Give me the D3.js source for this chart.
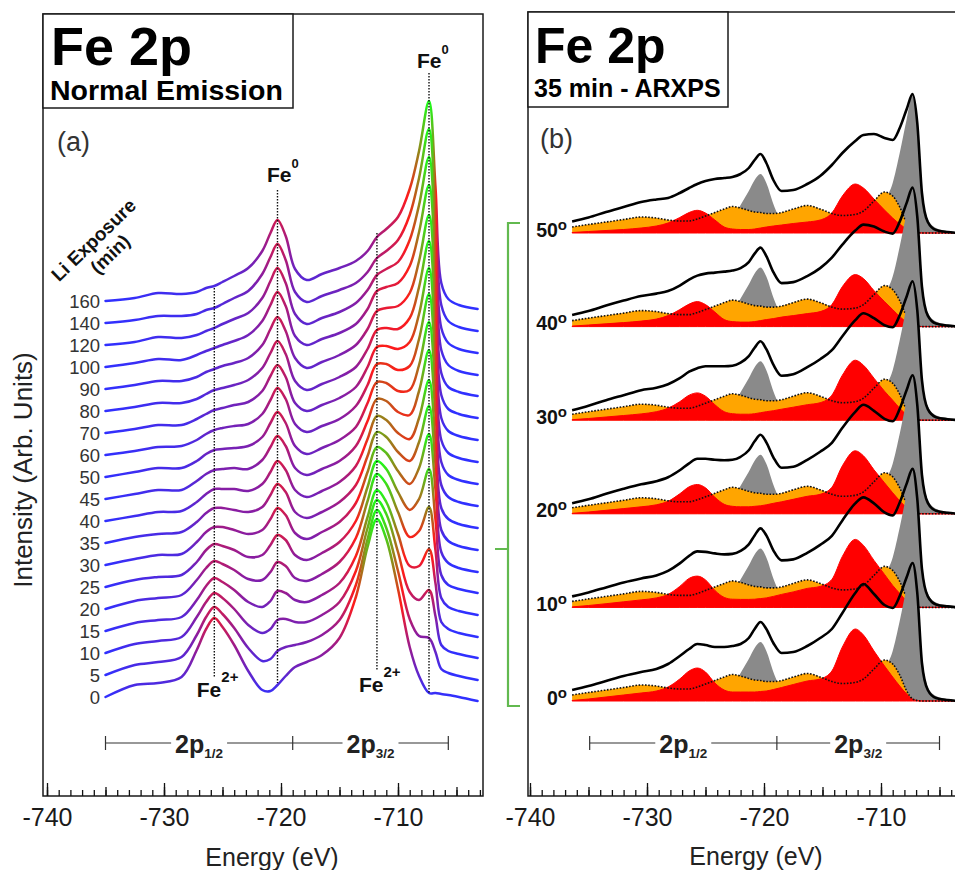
<!DOCTYPE html>
<html>
<head>
<meta charset="utf-8">
<script src="https://cdn.jsdelivr.net/npm/d3@7"></script>
<style>
  body { margin: 0; background: #fff; }
  svg { display: block; }
  text { font-family: "Liberation Sans", Arial, Helvetica, sans-serif; }
</style>
</head>
<body>
<svg id="chart" width="955" height="870"></svg>
<script>
// ---- Panel (a): Fe 2p, normal emission, vs Li exposure ----
var exposures = [0, 5, 10, 15, 20, 25, 30, 35, 40, 45, 50, 60, 70, 80, 90, 100, 120, 140, 160];
var energyA = [-735, -732.5, -730.5, -728.5, -727.2, -726.4, -725.7, -725, -724, -722.8, -721.6, -720.9,
  -720.3, -719.6, -718.8, -717.8, -716.5, -715, -713.6, -712.6, -711.8, -711, -710, -709, -708.2,
  -707.35, -706.8, -706.3, -705.7, -704.8, -703.2];

var min0   = [0, 12, 14, 20, 47, 68, 79, 70, 52, 26, 7, 6, 12, 21, 30, 35, 42, 59, 100, 150, 178, 158, 108, 50, 21, 4, 4, 3, 2, 0, -4];
var min5   = [0, 10, 13, 18, 40, 58, 68, 61, 47, 27, 14, 16, 24, 28, 30, 33, 40, 55, 90, 136, 165, 147, 104, 56, 39, 37, 23, 6, 2, -1, -5];
var min10  = [0, 9, 12, 16, 36, 51, 60, 55, 44, 28, 20, 24, 33, 34, 31, 31, 38, 51, 82, 125, 153, 139, 101, 61, 53, 63, 37, 8, 2, -1, -5];
var min15  = [0, 8, 11, 14, 31, 45, 53, 49, 41, 29, 24, 30, 40, 38, 31, 29, 36, 48, 75, 114, 141, 129, 97, 65, 65, 82, 48, 9, 2, -2, -6];
var min20  = [0, 8, 11, 14, 29, 41, 48, 45, 39, 30, 29, 37, 47, 43, 31, 28, 35, 47, 71, 108, 135, 125, 97, 72, 78, 102, 59, 11, 2, -2, -6];
var min25  = [0, 7, 10, 12, 25, 37, 43, 41, 37, 30, 32, 42, 52, 47, 32, 27, 34, 45, 66, 100, 126, 118, 95, 77, 88, 118, 68, 12, 2, -2, -6];
var min30  = [0, 6, 10, 11, 23, 33, 38, 38, 35, 31, 35, 46, 57, 50, 32, 26, 33, 43, 62, 93, 118, 112, 94, 81, 97, 131, 76, 13, 2, -3, -7];
var min35  = [0, 6, 9, 11, 21, 30, 35, 35, 33, 31, 36, 48, 59, 51, 31, 25, 31, 41, 58, 87, 111, 106, 91, 82, 101, 137, 79, 13, 2, -3, -7];
var min40  = [0, 5, 9, 10, 19, 27, 32, 32, 32, 30, 37, 49, 60, 51, 31, 24, 30, 39, 55, 82, 105, 101, 88, 82, 103, 141, 81, 13, 2, -3, -7];
var min45  = [0, 5, 9, 9, 18, 25, 29, 30, 31, 30, 39, 52, 63, 53, 31, 24, 30, 38, 53, 78, 100, 98, 87, 84, 108, 149, 86, 14, 2, -3, -7];
var min50  = [0, 5, 9, 9, 16, 23, 27, 28, 29, 31, 40, 54, 65, 54, 31, 23, 29, 37, 50, 74, 95, 94, 86, 87, 112, 155, 89, 15, 2, -3, -7];
var min60  = [0, 4, 8, 9, 15, 21, 25, 27, 29, 31, 41, 55, 67, 56, 31, 23, 29, 36, 49, 70, 91, 91, 85, 89, 116, 161, 93, 15, 2, -3, -7];
var min70  = [0, 4, 8, 8, 14, 19, 23, 25, 28, 31, 42, 57, 68, 56, 30, 22, 28, 35, 46, 66, 86, 87, 84, 91, 119, 165, 95, 15, 2, -3, -7];
var min80  = [0, 4, 8, 8, 12, 17, 21, 23, 26, 31, 43, 58, 70, 57, 30, 21, 27, 34, 44, 62, 81, 83, 82, 93, 124, 170, 98, 16, 2, -3, -7];
var min90  = [0, 4, 8, 8, 12, 17, 20, 23, 26, 31, 44, 60, 72, 58, 31, 21, 27, 34, 44, 60, 78, 81, 83, 96, 128, 174, 100, 16, 2, -3, -7];
var min100 = [0, 4, 8, 7, 12, 16, 19, 22, 26, 32, 46, 62, 75, 61, 31, 22, 28, 34, 43, 58, 76, 80, 84, 101, 135, 182, 105, 17, 2, -4, -8];
var min120 = [0, 3, 8, 7, 10, 14, 17, 21, 26, 32, 47, 64, 77, 62, 31, 21, 27, 33, 42, 55, 70, 76, 83, 105, 140, 188, 108, 17, 2, -4, -8];
var min140 = [0, 3, 7, 7, 9, 13, 15, 19, 25, 32, 49, 66, 79, 63, 31, 21, 27, 33, 40, 51, 65, 72, 83, 108, 145, 194, 112, 18, 2, -4, -8];
var min160 = [0, 3, 8, 7, 9, 13, 15, 19, 25, 33, 50, 68, 81, 65, 32, 21, 27, 33, 40, 50, 64, 72, 84, 112, 150, 200, 115, 18, 2, -4, -8];
var spectraA = [min0, min5, min10, min15, min20, min25, min30, min35, min40, min45, min50,
  min60, min70, min80, min90, min100, min120, min140, min160];

// ---- Panel (b): 35 min, ARXPS with fitted components ----
var angles = [0, 10, 20, 30, 40, 50];
var energyB = [-736.4, -735, -733.5, -732, -730.5, -729.2, -728.2, -727.2, -726.4, -725.7, -725, -724.2,
  -723.4, -722.7, -722, -721.3, -720.8, -720.3, -719.8, -719.2, -718.5, -717.5, -716.3, -715.2, -714.2,
  -713.3, -712.2, -711.5, -710.6, -709.7, -709, -708.4, -707.8, -707.3, -706.9, -706.5, -706, -705.3,
  -704.3, -703.3];

var env0  = [11, 15, 20, 25, 29, 32, 37, 45, 52, 57, 56, 54, 54, 55, 57, 63, 72, 79, 72, 58, 48, 49, 55, 63, 72, 88, 108, 117, 107, 96, 93, 105, 124, 138, 108, 38, 11, 3, 1, 0];
var env10 = [11, 15, 20, 25, 29, 32, 36.5, 44, 51.5, 56, 55.5, 54, 53, 53.5, 56.5, 63, 72, 79, 72, 57, 47, 48, 54.5, 62.5, 71.5, 87, 104, 110, 104, 95, 92, 105, 124, 138.5, 108.5, 38.5, 11, 3, 1, 0];
var env20 = [10.5, 14.5, 20, 25, 29.5, 32.5, 36.5, 43.5, 50.5, 55, 55, 54, 53.5, 54, 57, 63.5, 72.5, 79, 71.5, 56.5, 46, 47, 54, 62, 71, 86, 102, 109, 103, 95, 92.5, 105, 124, 138.5, 109, 39, 11, 3, 1, 0];
var env30 = [10, 14.5, 20, 25, 30, 32.5, 36, 42, 48.5, 52, 54, 54, 54, 54.5, 57.5, 64, 72.5, 79, 71, 55.5, 44.5, 46, 53, 61, 70, 84, 100, 107, 102, 95, 93, 105, 124, 139, 110, 40, 11, 3, 1, 0];
var env40 = [11.5, 15.5, 21, 26, 30.5, 33, 35.5, 41, 47, 51, 53, 54, 55, 56, 58.5, 64.5, 73, 79, 70.5, 54.5, 43.5, 44.5, 50.5, 58.5, 69, 82, 96, 102, 100, 95, 93, 105, 124, 139, 110, 40, 11, 3, 1, 0];
var env50 = [11.5, 15.5, 21, 26, 31, 33.5, 35, 40, 45, 49, 52, 54, 55, 56, 59, 65, 73, 79, 70, 53, 42, 43, 49, 57, 68, 80, 92, 98, 99, 95, 93, 105, 124, 139, 110, 40, 11, 3, 1, 0];

var red0  = [0.5, 2, 4, 6, 8, 10, 14, 22, 30, 33, 29, 18, 11, 9, 9, 9, 9, 9.5, 10, 11.5, 13.5, 16.5, 20, 22, 30, 54, 72, 66, 50, 35, 24, 15, 7, 2, 0.5, 0, 0, 0, 0, 0];
var red10 = [0.5, 1.9, 3.7, 5.6, 7.5, 9.5, 13, 21, 29, 31.3, 27.5, 17, 10, 8.2, 8, 8, 8.2, 8.8, 9.5, 11, 13, 15.5, 19, 21, 28, 51, 68, 62, 47, 33, 22, 14, 6.5, 2, 0.5, 0, 0, 0, 0, 0];
var red20 = [0.5, 1.8, 3.5, 5.2, 7, 9, 12.5, 20, 27, 29.3, 26, 16.5, 9.5, 7.5, 7, 7, 7.5, 8, 9, 10.5, 12, 14.5, 17.5, 19.5, 26.5, 48, 63, 58, 44, 31, 21, 13, 6, 2, 0.5, 0, 0, 0, 0, 0];
var red30 = [0.5, 1.7, 3.2, 4.7, 6.3, 8.5, 12, 18.5, 25, 27.3, 24, 15.5, 8.5, 6.5, 6, 6, 6.5, 7.5, 8.5, 9.5, 11, 13, 15.5, 17.5, 25, 45, 60, 55, 42, 29, 20, 12, 5.5, 1.5, 0.5, 0, 0, 0, 0, 0];
var red40 = [0.5, 1.6, 2.8, 4, 5.5, 7.5, 11, 17, 22.5, 25, 22, 14.5, 7, 5, 4.5, 4.5, 5, 6, 7, 8, 9.5, 11, 13, 15, 22, 40, 52, 48, 36, 25, 17, 10, 4.5, 1.5, 0.3, 0, 0, 0, 0, 0];
var red50 = [0.5, 1.5, 2.5, 3.5, 5, 7, 10, 15.5, 20.5, 22.7, 20, 13, 6, 4, 3.5, 3.5, 4, 5, 6, 7, 8, 9.5, 11, 13, 20, 37, 49, 45, 34, 23, 15, 9, 4, 1, 0.3, 0, 0, 0, 0, 0];

var grayFe0 = [0, 0, 0, 0, 0, 0, 0, 0, 0, 0, 0, 1.5, 5, 14, 28, 42, 53, 59, 50, 29, 11, 3, 1, 1, 2, 3, 6, 9, 16, 32, 50, 80, 114, 139, 112, 45, 14, 5, 2, 0.5];
var orangeComp = [6, 8.5, 11, 13.5, 16, 15, 13, 12, 12, 14, 17, 20.5, 24, 26.5, 25, 22.5, 21, 20.5, 19.5, 19.5, 20.5, 24, 27.5, 24, 19.5, 17.5, 18.5, 22, 32, 41, 37, 26, 10, 2, 0.5, 0, 0, 0, 0, 0];

var envB = [env0, env10, env20, env30, env40, env50];
var redB = [red0, red10, red20, red30, red40, red50];

var bracketA = [-735, -719, -705.7];
var bracketB = [-734.9, -718.9, -705];

// ---- layout ----
var svg = d3.select("#chart");
var defs = svg.append("defs");
var BLUE = "#3030ff", PURPLE = "#8e1c9c", RED = "#ff1a1a", GREEN = "#1aff1a";

var xA = d3.scaleLinear().domain([-740, -710]).range([47, 398]);
var yA = d3.scaleLinear().domain([0, 700]).range([697, -3]);
var stepA = 22;

var xB = d3.scaleLinear().domain([-740, -710]).range([530, 881]);
var yB = d3.scaleLinear().domain([0, 600]).range([701, 101]);
var stepB = 93.6;

function zip(xs, ys) { return xs.map(function(x, i) { return [x, ys[i]]; }); }

function energyAxis(x, lo, hi, y) {
  var all = d3.range(lo, hi + 1, 1);
  var sets = [
    { v: all, size: -6 },
    { v: all.filter(function(d) { return d % 5 === 0; }), size: -9 },
    { v: all.filter(function(d) { return d % 10 === 0; }), size: -13 }
  ];
  sets.forEach(function(s, k) {
    var ax = d3.axisBottom(x).tickValues(s.v).tickSize(s.size).tickSizeOuter(0).tickPadding(12)
      .tickFormat(k === 2 ? function(d) { return String(d); } : function() { return ""; });
    var g = svg.append("g").attr("transform", "translate(0," + y + ")").call(ax);
    g.select(".domain").remove();
    g.selectAll(".tick line").attr("stroke", "#111").attr("stroke-width", 1.3);
    g.selectAll("text").attr("font-size", 25).attr("fill", "#1a1a1a").style("font-family", null);
  });
}

function supText(parent, x, y, main, sup, size, supSize, rise, anchor) {
  var t = parent.append("text").attr("x", x).attr("y", y).attr("font-weight", "bold")
    .attr("font-size", size).attr("fill", "#111").attr("text-anchor", anchor || "start");
  t.append("tspan").text(main);
  t.append("tspan").attr("font-size", supSize).attr("dy", -rise).text(sup);
  return t;
}

function orbitalBracket(x, marks, y) {
  var g = svg.append("g");
  g.append("line").attr("x1", x(marks[0])).attr("x2", x(marks[2])).attr("y1", y).attr("y2", y)
    .attr("stroke", "#333").attr("stroke-width", 1.2);
  marks.forEach(function(m) {
    g.append("line").attr("x1", x(m)).attr("x2", x(m)).attr("y1", y - 7).attr("y2", y + 7)
      .attr("stroke", "#333").attr("stroke-width", 1.2);
  });
  [["1/2", (marks[0] + marks[1]) / 2], ["3/2", (marks[1] + marks[2]) / 2]].forEach(function(l) {
    var t = g.append("text").attr("x", x(l[1])).attr("y", y + 10).attr("text-anchor", "middle")
      .attr("font-weight", "bold").attr("font-size", 25).attr("fill", "#222");
    t.append("tspan").text("2p");
    t.append("tspan").attr("font-size", 13.5).attr("dy", 5).text(l[0]);
    var bb = t.node().getBBox();
    g.insert("rect", function() { return t.node(); })
      .attr("x", bb.x - 4).attr("y", y - 3).attr("width", bb.width + 8).attr("height", 6).attr("fill", "#fff");
  });
}

// ===== Panel (a) =====
svg.append("rect").attr("x", 43).attr("y", 14).attr("width", 440).attr("height", 782)
  .attr("fill", "none").attr("stroke", "#1a1a1a").attr("stroke-width", 1.5);

var lineA = d3.line().x(function(d) { return xA(d[0]); }).curve(d3.curveCatmullRom.alpha(0.5));

for (var i = spectraA.length - 1; i >= 0; i--) {
  var off = i * stepA;
  var peakMax = d3.max(spectraA[i]);
  var gid = "gradA" + i;
  // colour follows each trace's height, from blue at its base to green at its highest peak
  var grad = defs.append("linearGradient").attr("id", gid).attr("gradientUnits", "userSpaceOnUse")
    .attr("x1", 0).attr("x2", 0).attr("y1", yA(off)).attr("y2", yA(off + peakMax));
  [[0, BLUE], [0.25, PURPLE], [0.52, RED], [1, GREEN]].forEach(function(s) {
    grad.append("stop").attr("offset", s[0]).attr("stop-color", s[1]);
  });
  lineA.y((function(o) { return function(d) { return yA(o + d[1]); }; })(off));
  svg.append("path").attr("d", lineA(zip(energyA, spectraA[i])))
    .attr("fill", "none").attr("stroke", "url(#" + gid + ")").attr("stroke-width", 2.5)
    .attr("stroke-linejoin", "round").attr("stroke-linecap", "round");

  svg.append("text").attr("x", 100).attr("y", yA(off) + 6.5).attr("text-anchor", "end")
    .attr("font-size", 18.5).attr("fill", "#333").text(exposures[i]);
}

// peak markers
var markers = [
  { e: -725.7, y1: 288, y2: 677, lx: -17.5, ly: 697, sup: "2+" },
  { e: -720.3, y1: 190, y2: 683, lx: -10.5, ly: 182, sup: "0" },
  { e: -711.8, y1: 233, y2: 670, lx: -18, ly: 692, sup: "2+" },
  { e: -707.35, y1: 73, y2: 693, lx: -12, ly: 68, sup: "0" }
];
markers.forEach(function(m) {
  svg.append("line").attr("x1", xA(m.e)).attr("x2", xA(m.e)).attr("y1", m.y1).attr("y2", m.y2)
    .attr("stroke", "#111").attr("stroke-width", 1.4).attr("stroke-dasharray", "1.5,1.5");
  if (m.sup === "0") supText(svg, xA(m.e) + m.lx, m.ly, "Fe", "0", 21, 13, 14);
  else supText(svg, xA(m.e) + m.lx, m.ly, "Fe", "2+", 21, 15, 15);
});

// Li exposure title
svg.append("text").attr("transform", "translate(93.5,240) rotate(-44)").attr("text-anchor", "middle")
  .attr("dy", "0.35em").attr("font-weight", "bold").attr("font-size", 19).attr("fill", "#111").text("Li Exposure");
svg.append("text").attr("transform", "translate(110,254) rotate(-44)").attr("text-anchor", "middle")
  .attr("dy", "0.35em").attr("font-weight", "bold").attr("font-size", 19).attr("fill", "#111").text("(min)");

// title box a
svg.append("rect").attr("x", 43).attr("y", 14).attr("width", 250).attr("height", 94)
  .attr("fill", "#fff").attr("stroke", "#1a1a1a").attr("stroke-width", 1.5);
svg.append("text").attr("x", 51).attr("y", 65).attr("font-weight", "bold").attr("font-size", 54).text("Fe 2p");
svg.append("text").attr("x", 50).attr("y", 100).attr("font-weight", "bold").attr("font-size", 28.5).text("Normal Emission");
svg.append("text").attr("x", 57).attr("y", 151).attr("font-size", 27).attr("fill", "#333").text("(a)");

orbitalBracket(xA, bracketA, 743);
energyAxis(xA, -740, -703, 796);

svg.append("text").attr("transform", "translate(31.5,470) rotate(-90)").attr("text-anchor", "middle")
  .attr("font-size", 26).attr("fill", "#222").text("Intensity (Arb. Units)");
svg.append("text").attr("x", 272).attr("y", 866).attr("text-anchor", "middle")
  .attr("font-size", 25).attr("fill", "#222").text("Energy (eV)");

// ===== Panel (b) =====
svg.append("path").attr("d", "M960,12H528V796H960").attr("fill", "none")
  .attr("stroke", "#1a1a1a").attr("stroke-width", 1.5);

var areaB = d3.area().x(function(d) { return xB(d[0]); }).curve(d3.curveMonotoneX);
var lineB = d3.line().x(function(d) { return xB(d[0]); }).curve(d3.curveMonotoneX);

for (var k = angles.length - 1; k >= 0; k--) {
  var o = k * stepB;
  var base = yB(o);
  var yv = (function(oo) { return function(d) { return yB(oo + d[1]); }; })(o);
  areaB.y0(base).y1(yv);
  lineB.y(yv);

  svg.append("path").attr("d", areaB(zip(energyB, grayFe0))).attr("fill", "#8a8a8a");
  svg.append("path").attr("d", areaB(zip(energyB, orangeComp))).attr("fill", "#ffa500");
  svg.append("path").attr("d", areaB(zip(energyB, redB[k]))).attr("fill", "#ff0000")
    .attr("stroke", "#ff0000").attr("stroke-width", 1);
  svg.append("path").attr("d", lineB(zip(energyB, orangeComp))).attr("fill", "none")
    .attr("stroke", "#111").attr("stroke-width", 1.6).attr("stroke-dasharray", "1.6,1.6");
  svg.append("path").attr("d", lineB(zip(energyB, envB[k]))).attr("fill", "none")
    .attr("stroke", "#000").attr("stroke-width", 2.6).attr("stroke-linejoin", "round");

  supText(svg, 567, base + 3.5, String(angles[k]), "o", 19.5, 15, 7, "end");
}

// link bracket between the 35 min curve and panel (b)
var brTop = yB(5 * stepB) - 10, brBot = yB(0) + 5, brMid = yA(7 * stepA) + 6;
svg.append("path").attr("d", "M520," + brTop + "H508V" + brBot + "H520M508," + brMid + "H495")
  .attr("fill", "none").attr("stroke", "#62b94f").attr("stroke-width", 2.2);

svg.append("rect").attr("x", 528).attr("y", 12).attr("width", 200).attr("height", 95)
  .attr("fill", "#fff").attr("stroke", "#1a1a1a").attr("stroke-width", 1.5);
svg.append("text").attr("x", 535).attr("y", 63).attr("font-weight", "bold").attr("font-size", 50).text("Fe 2p");
svg.append("text").attr("x", 534).attr("y", 97).attr("font-weight", "bold").attr("font-size", 25).text("35 min - ARXPS");
svg.append("text").attr("x", 540).attr("y", 148).attr("font-size", 27).attr("fill", "#333").text("(b)");

orbitalBracket(xB, bracketB, 743);
energyAxis(xB, -740, -704, 796);
svg.append("text").attr("x", 756).attr("y", 865).attr("text-anchor", "middle")
  .attr("font-size", 25).attr("fill", "#222").text("Energy (eV)");
</script>
</body>
</html>
